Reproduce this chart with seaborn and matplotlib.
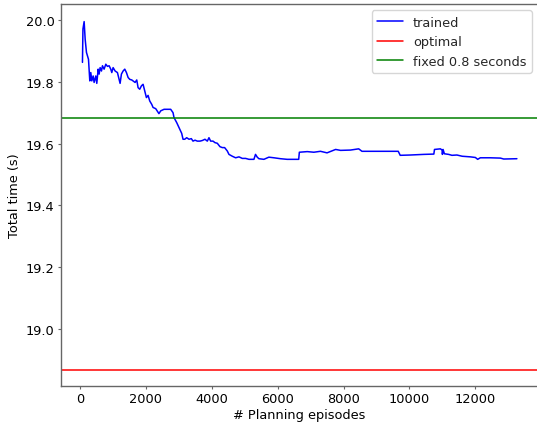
import numpy as np
import pandas as pd
import matplotlib
matplotlib.use("Agg")
import matplotlib.pyplot as plt
import seaborn as sns

episodes = [80, 95, 131, 162, 202, 263, 303, 333, 364, 404, 434, 485, 515, 556, 586, 616,
            657, 687, 737, 788, 838, 889, 939, 970, 1010, 1071, 1141, 1192, 1222, 1262, 1313,
            1364, 1414, 1465, 1515, 1576, 1616, 1677, 1727, 1768, 1818, 1869, 1919, 1970, 2020,
            2071, 2121, 2182, 2222, 2303, 2400,
            2454, 2555, 2757, 2828, 2858, 2939, 3010, 3060, 3091, 3131, 3182, 3242, 3313, 3383,
            3434, 3495, 3565, 3646, 3717, 3797, 3868, 3918, 3969, 4040, 4101, 4171, 4252, 4323,
            4393, 4474, 4525, 4626, 4727, 4828, 4929, 5030, 5131, 5282, 5330, 5383, 5434,
            5585, 5735, 5890, 6090, 6290, 6640, 6660, 6900, 7100, 7300, 7500,
            7760, 7910, 8210, 8460, 8560, 9660, 9720, 10030, 10430, 10740, 10760, 10940, 10990,
            11000, 11020, 11060, 11190, 11290, 11440, 11600, 11850, 12000, 12070, 12150, 12450,
            12760, 12860, 13260]
trained = [19.863, 19.971, 19.995, 19.938, 19.895, 19.873, 19.803, 19.830, 19.803, 19.819,
           19.798, 19.819, 19.795, 19.841, 19.825, 19.846, 19.835, 19.852, 19.841, 19.857,
           19.850, 19.852, 19.841, 19.830, 19.846, 19.835, 19.830, 19.808, 19.795, 19.825,
           19.835, 19.841, 19.830, 19.814, 19.808, 19.806, 19.803, 19.798, 19.806, 19.781,
           19.776, 19.787, 19.792, 19.770, 19.749, 19.756, 19.738, 19.727, 19.717, 19.713,
           19.697,
           19.706, 19.711, 19.711, 19.700, 19.684, 19.668, 19.652, 19.641, 19.633, 19.614,
           19.614, 19.619, 19.614, 19.616, 19.608, 19.611, 19.608, 19.608, 19.610, 19.614,
           19.608, 19.619, 19.608, 19.608, 19.603, 19.601, 19.590, 19.587, 19.587, 19.576,
           19.565, 19.559, 19.554, 19.557, 19.552, 19.552, 19.549, 19.549, 19.565, 19.556,
           19.551,
           19.549, 19.556, 19.554, 19.551, 19.549, 19.549, 19.572, 19.574, 19.572,
           19.575, 19.570, 19.581, 19.578, 19.579, 19.583, 19.575, 19.575, 19.562, 19.563,
           19.565, 19.566, 19.581, 19.583, 19.579, 19.565, 19.581, 19.567, 19.565, 19.562,
           19.563, 19.559, 19.557, 19.555, 19.549, 19.554, 19.554, 19.553, 19.550, 19.551]
optimal_time = 18.867
fixed_time = 19.682
labels = ["trained", "optimal", "fixed 0.8 seconds"]

sns.set_style("white")
plt.rcParams['font.family'] = ['DejaVu Sans']

df = pd.DataFrame({"episode": episodes, "time": trained})

fig = plt.figure(figsize=(5.37, 4.27), dpi=100)
ax = fig.add_axes([60.7 / 537, 40 / 427, (538 - 60.7) / 537, (387 - 5) / 427])

sns.lineplot(data=df, x="episode", y="time", ax=ax, color="blue", lw=1.1,
             label=labels[0], estimator=None, sort=False)
ax.axhline(optimal_time, color="red", lw=1.1, label=labels[1])
ax.axhline(fixed_time, color="green", lw=1.1, label=labels[2])

ax.set_xlim(-580, 13900)
ax.set_ylim(18.815, 20.052)
ax.set_xticks([0, 2000, 4000, 6000, 8000, 10000, 12000])
ax.set_yticks([19.0, 19.2, 19.4, 19.6, 19.8, 20.0])
ax.set_yticklabels(["19.0", "19.2", "19.4", "19.6", "19.8", "20.0"])

for s in ax.spines.values():
    s.set_color("#666666")
    s.set_linewidth(1.0)
ax.tick_params(axis="both", which="major", direction="out", length=2.5, width=0.8, pad=2,
               color="#666666", labelsize=9.3, labelcolor="black", left=True, bottom=True)

ax.set_xlabel("# Planning episodes", fontsize=9.3, color="black", labelpad=2)
ax.set_ylabel("Total time (s)", fontsize=9.3, color="black", labelpad=3.5)

leg = ax.legend(loc="upper right", fontsize=9.3, frameon=True, fancybox=True,
                handlelength=2.0, borderaxespad=0.5)
leg.get_frame().set_edgecolor("#cccccc")
leg.get_frame().set_alpha(0.8)

fig.savefig("out.png", dpi=100)
